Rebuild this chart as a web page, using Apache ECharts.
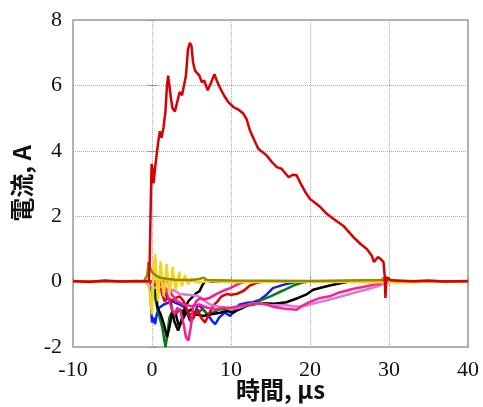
<!DOCTYPE html>
<html>
<head>
<meta charset="utf-8">
<script src="https://cdn.jsdelivr.net/npm/echarts@6/dist/echarts.min.js"></script>
<style>
  html, body { margin: 0; padding: 0; background: #fff; }
  #chart { width: 483px; height: 407px; }
</style>
</head>
<body>
<div id="chart"></div>
<script>
// tick labels
var xTicks = [-10, 0, 10, 20, 30, 40];
var yTicks = [-2, 0, 2, 4, 6, 8];

// traces: [time (us), current (A)]
var redMain = [[-10,0.02],[-8,-0.01],[-6,0.03],[-4,0.0],[-2,0.02],[-0.4,0.01],[-0.3,0.5],[-0.15,2.5],[-0.05,3.6],[0.1,3.4],[0.2,3.0],[0.4,3.5],[0.6,3.9],[0.8,4.3],[1.0,4.6],[1.2,4.4],[1.45,4.7],[1.7,5.2],[1.9,6.0],[2.05,6.3],[2.2,6.0],[2.4,5.6],[2.6,5.3],[2.9,5.2],[3.2,5.5],[3.5,5.8],[3.8,5.7],[4.0,5.65],[4.3,6.3],[4.55,7.1],[4.8,7.3],[5.0,7.2],[5.2,6.7],[5.45,6.45],[5.7,6.4],[6.0,6.3],[6.3,6.1],[6.6,6.15],[7.05,5.85],[7.5,6.1],[7.9,6.34],[8.2,6.15],[8.6,5.93],[9.1,5.7],[9.66,5.49],[10.3,5.34],[11.0,5.25],[11.56,5.14],[12.0,4.95],[12.4,4.62],[13.0,4.3],[13.46,4.06],[14.5,3.86],[15.2,3.65],[15.8,3.5],[16.4,3.45],[17.3,3.19],[17.8,3.27],[18.3,3.25],[18.95,2.94],[19.5,2.7],[20.0,2.53],[21.3,2.28],[22.0,2.1],[22.95,1.92],[24.2,1.71],[25.5,1.36],[26.4,1.15],[27.2,1.0],[27.8,0.8],[28.1,0.6],[28.35,0.66],[28.6,0.75],[28.9,0.7],[29.3,0.6],[29.45,0.2],[29.55,-0.5],[29.65,0.0],[29.8,0.12],[30.2,0.05],[31,0.03],[33,0.01],[35,0.03],[37,0.0],[40,0.02]];
var yellow = [[-10,0],[-1,0],[-0.6,0.05],[-0.3,-0.3],[0.0,-1.0],[0.2,0.3],[0.4,0.85],[0.6,-0.1],[0.75,-0.6],[0.95,0.1],[1.1,0.62],[1.3,-0.05],[1.5,-0.45],[1.7,0.1],[1.86,0.54],[2.05,0.0],[2.25,-0.35],[2.45,0.05],[2.62,0.44],[2.8,0.0],[3.0,-0.25],[3.25,0.05],[3.46,0.3],[3.65,0.0],[3.8,-0.15],[4.0,0.05],[4.2,0.2],[4.4,0.0],[4.6,-0.08],[4.8,0.02],[5.0,0.1],[5.3,0.0],[6,-0.03],[7,0.02],[10,-0.02],[20,0],[30,-0.03],[40,0]];
var olive = [[-10,0],[-1,0.02],[-0.6,0.2],[-0.45,0.6],[-0.3,0.45],[0,0.3],[0.4,0.2],[1,0.12],[2,0.08],[3,0.06],[5,0.05],[6,0.08],[6.5,0.12],[7,0.05],[10,0.03],[20,0.02],[29,0.05],[29.6,0.15],[30,0.05],[31,0.02],[40,0.0]];
var blue = [[-10,0],[-0.3,0],[-0.15,-0.6],[0,-1.25],[0.2,-1.1],[0.4,-1.3],[0.6,-1.0],[0.9,-0.8],[1.5,-0.7],[2.5,-0.6],[3.5,-0.7],[4.2,-0.8],[4.8,-1.2],[5.3,-1.1],[5.8,-0.7],[6.3,-0.8],[7.0,-1.0],[7.6,-1.2],[8.0,-1.3],[8.5,-1.1],[9.2,-0.95],[9.9,-1.05],[10.5,-0.85],[11.1,-0.7],[12,-0.65],[12.8,-0.63],[13.7,-0.55],[14.5,-0.4],[15.3,-0.2],[16.6,-0.1],[18,-0.02],[20,0],[40,0]];
var green = [[-10,0],[0.2,0],[0.4,-0.5],[0.75,-0.9],[1.0,-0.9],[1.3,-1.4],[1.7,-2.0],[1.9,-1.7],[2.2,-1.1],[2.6,-0.9],[3.0,-1.0],[3.5,-0.85],[4.2,-0.95],[5.0,-1.0],[5.65,-0.94],[6.5,-0.85],[7.0,-1.0],[7.7,-0.94],[8.5,-0.85],[9.5,-0.83],[10.5,-0.85],[12,-0.74],[13,-0.7],[13.7,-0.58],[15,-0.45],[16.5,-0.28],[17.9,-0.12],[19,-0.03],[20,0],[40,0]];
var black = [[-10,0],[0.4,0],[0.7,-0.8],[1.1,-1.0],[1.5,-1.3],[1.9,-1.7],[2.2,-1.4],[2.6,-0.9],[3.0,-1.0],[3.4,-1.35],[3.8,-1.2],[4.3,-0.95],[5.0,-0.85],[5.5,-1.0],[6.5,-1.05],[7.5,-1.0],[8.6,-0.95],[9.5,-0.9],[10.3,-0.95],[10.7,-0.89],[11.5,-0.8],[12.4,-0.68],[14,-0.66],[15.5,-0.68],[17,-0.63],[18.5,-0.5],[19.5,-0.4],[20.4,-0.25],[21.5,-0.18],[22.5,-0.12],[24,-0.04],[25,0],[40,0]];
var black2 = [[-10,0],[1.5,0],[1.9,-0.5],[2.3,-0.55],[2.8,-1.2],[3.3,-1.5],[3.6,-1.3],[4.0,-0.9],[4.6,-0.6],[5.2,-0.45],[5.6,-0.35],[6.0,-0.3],[6.4,-0.1],[6.8,0.05],[7.5,0],[40,0]];
var redNeg = [[-10,0],[1.0,0],[1.3,-0.4],[1.6,-0.6],[2.0,-0.5],[2.5,-0.6],[3.0,-0.5],[3.5,-0.45],[4.0,-0.6],[4.5,-0.9],[5.0,-1.2],[5.4,-1.0],[5.8,-0.85],[6.2,-1.1],[6.7,-1.25],[7.2,-1.0],[7.7,-0.75],[8.2,-0.63],[8.8,-0.45],[9.45,-0.38],[10.0,-0.4],[10.7,-0.38],[11.6,-0.28],[12.4,-0.12],[13.25,-0.04],[14,0],[40,0]];
var pinkShort = [[-10,0],[1.5,0],[1.8,-0.3],[2.2,-0.6],[2.6,-0.9],[2.9,-1.0],[3.2,-0.8],[3.6,-0.9],[4.0,-1.3],[4.3,-1.7],[4.6,-1.8],[4.9,-1.4],[5.2,-0.8],[5.6,-0.6],[6.1,-0.5],[6.5,-0.55],[7.3,-0.5],[8.0,-0.4],[9.0,-0.28],[9.9,-0.2],[10.7,-0.1],[11.5,-0.02],[12,0],[40,0]];
var pinkLong = [[-10,0],[2,0],[2.5,-0.4],[3.2,-0.6],[4,-0.7],[5,-0.75],[6,-0.7],[7,-0.8],[8,-0.85],[9,-0.8],[10,-0.8],[11,-0.75],[12.4,-0.7],[13.3,-0.66],[14.5,-0.7],[15.5,-0.78],[16.6,-0.82],[18.3,-0.86],[19,-0.74],[20,-0.62],[21.3,-0.5],[22.5,-0.45],[23.5,-0.35],[24.6,-0.28],[25.5,-0.22],[27,-0.15],[28,-0.1],[28.9,-0.06],[29.5,0],[40,0]];
var violet = [[-10,0],[-0.8,0],[-0.5,-0.1],[0,-0.15],[0.5,-0.2],[1.0,-0.15],[1.5,-0.2],[2.0,-0.25],[2.5,-0.25],[3.0,-0.3],[3.5,-0.38],[4.5,-0.4],[5.7,-0.43],[6.5,-0.55],[7.0,-0.65],[7.8,-0.74],[8.8,-0.78],[9.9,-0.84],[11,-0.8],[12.4,-0.68],[13.7,-0.66],[15,-0.72],[17,-0.72],[18,-0.76],[19,-0.76],[20.8,-0.65],[22.5,-0.55],[24,-0.45],[25.5,-0.35],[27,-0.25],[28.9,-0.12],[29.6,-0.02],[30,0],[40,0]];

var traces = [
  { d: blue, c: '#1020f0' },
  { d: green, c: '#0a7a18' },
  { d: black, c: '#000000' },
  { d: black2, c: '#000000' },
  { d: redNeg, c: '#e00000' },
  { d: violet, c: '#d87ad8' },
  { d: pinkLong, c: '#ff2090' },
  { d: pinkShort, c: '#ff1a8c' },
  { d: yellow, c: '#f7d21e' },
  { d: olive, c: '#958800' },
  { d: redMain, c: '#d80000' }
];

var chart = echarts.init(document.getElementById('chart'));
var serifFont = "'Liberation Serif', 'Times New Roman', Times, serif";
var jpFont = "'Noto Sans CJK JP', sans-serif";

var series = traces.map(function (t) {
  return {
    type: 'line',
    data: t.d,
    showSymbol: false,
    symbol: 'none',
    lineStyle: { color: t.c, width: 2.5 },
    itemStyle: { color: t.c },
    animation: false
  };
});

var option = {
  animation: false,
  grid: {
    left: 73, right: 15, top: 20, bottom: 60,
    show: true, borderColor: '#9a9a9a', borderWidth: 1.5,
    containLabel: false, outerBoundsMode: 'none'
  },
  xAxis: [{
    type: 'value', min: xTicks[0], max: xTicks[xTicks.length - 1], interval: 10,
    name: '時間, μs', nameLocation: 'middle', nameGap: 31, nameMoveOverlap: false,
    nameTextStyle: { fontFamily: jpFont, fontSize: 24, fontWeight: 'bold', color: '#111', padding: [0, 0, 0, 20] },
    axisLine: { show: false },
    axisTick: { inside: true, length: 5, lineStyle: { color: '#9a9a9a' } },
    axisLabel: { fontFamily: serifFont, fontSize: 22, color: '#111', margin: 12 },
    splitLine: { show: true, lineStyle: { type: 'dotted', color: '#aaa', width: 1 } }
  }, {
    type: 'value', position: 'top', min: -10, max: 40, interval: 10,
    axisLine: { show: false },
    axisTick: { inside: true, length: 5, lineStyle: { color: '#9a9a9a' } },
    axisLabel: { show: false }, splitLine: { show: false }
  }],
  yAxis: [{
    type: 'value', min: yTicks[0], max: yTicks[yTicks.length - 1], interval: 2,
    name: '電流, A', nameLocation: 'middle', nameGap: 39, nameRotate: 90, nameMoveOverlap: false,
    nameTextStyle: { fontFamily: jpFont, fontSize: 24, fontWeight: 'bold', color: '#111' },
    axisLine: { show: false },
    axisTick: { inside: true, length: 5, lineStyle: { color: '#9a9a9a' } },
    axisLabel: { fontFamily: serifFont, fontSize: 22, color: '#111', margin: 11 },
    splitLine: { show: true, lineStyle: { type: 'dotted', color: '#aaa', width: 1 } }
  }, {
    type: 'value', position: 'right', min: -2, max: 8, interval: 2,
    axisLine: { show: false },
    axisTick: { inside: true, length: 5, lineStyle: { color: '#9a9a9a' } },
    axisLabel: { show: false }, splitLine: { show: false }
  }],
  series: series
};

chart.setOption(option);
</script>
</body>
</html>
